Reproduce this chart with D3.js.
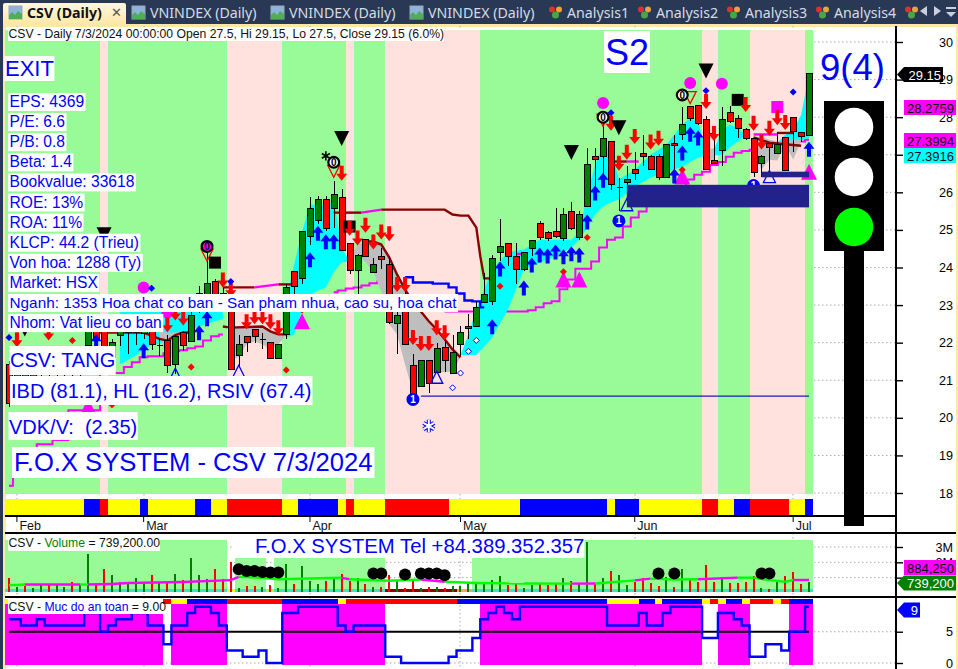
<!DOCTYPE html>
<html>
<head>
<meta charset="utf-8">
<script src="https://cdn.jsdelivr.net/npm/d3@7/dist/d3.min.js"></script>
<style>
  html, body { margin: 0; padding: 0; background: #fff; overflow: hidden; }
  svg { display: block; font-family: "Liberation Sans", Arial, sans-serif; }
</style>
</head>
<body>
<svg id="chart" width="958" height="669"></svg>
<script>
// Bars run oldest first, 102 sessions. Everywhere else a bar is named by how many bars back from the last one it is.
const openP = [21.41,20.8,21.5,21.1,21.3,21.6,21.2,21.3,21.7,21.3,21.93,22.4,22.3,21.6,22.18,22.28,22.28,22.25,22.31,21.93,22.07,21.42,22.27,22.03,22.95,22.95,23.62,23.3,22.89,21.65,22.16,22.35,22.09,22.0,21.58,22.22,23.89,23.7,24.83,25.26,25.82,25.56,25.85,24.65,23.93,24.74,23.88,24.29,24.08,22.51,23.2,21.38,20.83,21.53,21.2,21.87,21.18,21.94,22.37,22.44,23.08,23.1,24.41,24.65,24.3,23.95,24.5,25.16,24.92,24.97,24.76,25.5,24.81,25.61,26.96,26.96,27.36,26.12,26.27,26.62,27.04,26.96,26.96,26.4,27.31,27.55,28.28,28.32,27.95,26.86,27.12,28.13,27.97,27.68,27.44,26.78,27.31,27.04,27.47,28,27.6,27.5]
const highP = [21.5,21.7,21.8,21.8,21.8,21.8,21.8,21.8,21.85,21.85,22.5,22.6,22.5,22.1,22.3,22.4,22.4,22.45,22.4,22.09,22.2,22.2,22.3,23,23.5,24.7,23.7,23.45,22.95,22.2,22.16,22.35,22.25,22.0,21.96,23.55,23.89,24.97,25.88,25.91,25.91,26.3,26.09,24.65,24.37,24.74,24.25,24.52,24.3,23.3,23.4,21.71,21.53,21.53,22,22.18,22.2,22.44,22.75,23.1,23.86,24.32,25.29,24.65,24.64,24.4,24.73,25.24,24.98,25.58,25.58,25.75,25.5,27.18,27.18,27.84,27.36,26.38,26.7,27.06,27.53,27,27.03,27.28,27.53,28.28,28.28,28.32,28.02,27.57,28.28,28.3,28.06,27.7,27.44,27,27.31,27.6,27.47,28,27.6,29.15]
const lowP = [20.3,20.6,20.9,21,21.1,21.1,21,21,21.1,21.1,21.5,22.0,21.6,21.5,21.9,21.69,21.95,22.1,21.8,21.65,21.2,21.16,21.78,22.03,22.8,22.8,22.95,22.9,21.29,21.38,21.76,22.0,21.82,21.58,21.58,22.1,23.2,23.55,24.61,25.15,24.98,25.05,24.46,23.82,23.3,24.28,23.85,23.95,22.5,21.69,21.95,20.55,20.83,20.67,21.2,21.22,21.18,21.65,22.09,22.44,23.08,23,24.17,24.03,23.55,23.9,24.3,24.73,24.71,24.78,24.7,25,24.74,25.6,26.1,26.3,26.07,25.5,25.8,26.34,26.69,26.6,26.34,26.38,26.47,27.4,27.9,27.8,26.6,26.78,26.7,27.85,27.44,27.4,26.42,26.42,26.51,27.04,26.58,27.06,27.35,27.5]
const closeP = [20.37,21.3,21.1,21.5,21.6,21.2,21.6,21.7,21.3,21.75,22.33,22.1,21.9,22.0,22.29,22.33,22.33,22.33,21.96,21.93,21.4,22.16,21.93,22.71,23.3,23.57,23.0,23.0,21.29,21.94,22.0,22.16,22.09,21.58,21.96,23.46,23.5,24.97,25.56,25.82,25.05,25.93,24.46,23.93,24.32,24.3,24.08,24.22,22.53,22.73,21.95,20.58,21.53,20.92,21.84,21.53,21.73,22.28,22.44,22.93,23.28,24.24,24.55,24.28,23.95,24.39,24.73,24.81,24.76,24.83,25.4,25.04,25.42,26.75,26.88,27.44,26.2,26.12,26.33,26.51,26.96,26.62,26.4,27.28,27.25,27.81,27.97,27.82,26.6,26.78,27.95,27.89,27.7,27.44,26.53,26.96,27.18,27.28,26.58,27.62,27.49,29.15]
const volumeM = [0.95,0.41,0.45,0.3,0.56,0.52,0.52,0.37,0.69,0.52,2.56,0.58,1.55,1.2,0.69,0.62,0.99,0.6,1.2,0.65,0.73,1.27,0.84,2.3,1.16,0.9,1.55,0.9,2.0,0.3,0.45,0.43,0.41,0.52,0.34,1.87,0.56,1.74,0.77,0.56,0.77,1.05,1.23,0.77,1.0,0.56,0.39,0.41,1.2,0.77,0.34,0.84,0.34,0.39,0.41,0.34,0.45,0.45,0.62,0.62,0.69,0.84,1.1,0.52,0.56,0.3,0.52,0.62,0.52,0.56,0.95,0.77,0.62,3.3,0.56,0.95,1.42,1.16,0.52,0.69,0.95,0.65,0.45,1.03,0.39,1.55,0.84,0.69,1.8,0.73,1.05,0.62,0.62,0.69,1.1,0.3,0.26,0.69,1.1,1.38,0.58,0.74]
const safetyLevel = [7,7,6,6,7,6,6,6,6,6,8,8,5,6,7,7,8,8,6,6,3,6,6,8,9,9,8,6,2,2,1,1,2,0,0,8,8,9,9,9,9,9,6,5,6,6,6,6,1,1,0,0,0,0,0,0,1,2,2,4,7,8,9,8,7,9,9,9,9,9,9,9,9,9,9,9,6,6,6,6,8,6,6,8,9,9,9,9,4,4,8,8,7,6,1,1,3,3,2,5,5,9]

const monthNames = ['Feb', 'Mar', 'Apr', 'May', 'Jun', 'Jul']
const monthBars = [100, 84, 63, 44, 22, 2]
const priceTicks = [18,19,20,21,22,23,24,25,26,27,28,29,30]
const volumeTicks = [1,2,3]
const safetyTicks = [0,5]

// [from bar, to bar, state]
const trendSpans = [[101.5,89.5,'g'],[89.5,88.5,'p'],[88.5,73.5,'g'],[73.5,66.5,'p'],[66.5,58.5,'g'],[58.5,57.5,'p'],[57.5,53.5,'g'],[53.5,41.5,'p'],[41.5,13.5,'g'],[13.5,11.5,'p'],[11.5,7.5,'g'],[7.5,0.5,'p'],[0.5,-0.5,'g']]
const phaseSpans = [[101.5,91.5,'y'],[91.5,89.5,'b'],[89.5,88.5,'r'],[88.5,84.5,'y'],[84.5,83.5,'b'],[83.5,77.5,'y'],[77.5,75.5,'b'],[75.5,73.5,'y'],[73.5,66.5,'r'],[66.5,64.5,'y'],[64.5,59.5,'b'],[59.5,58.5,'y'],[58.5,57.5,'r'],[57.5,53.5,'y'],[53.5,45.5,'r'],[45.5,36.5,'y'],[36.5,25.5,'b'],[25.5,24.5,'y'],[24.5,21.5,'b'],[21.5,13.5,'y'],[13.5,11.5,'r'],[11.5,9.5,'y'],[9.5,7.5,'b'],[7.5,2.5,'r'],[2.5,0.5,'y'],[0.5,-0.5,'b']]
const volumeZones = [[101.5,73.5],[72.5,68.5],[67.5,53.5],[42.5,-0.5]]
const volumeStrip = [[101.5,73.5,'t'],[73.5,72.5,'y'],[72.5,68.5,'t'],[68.5,67.5,'l'],[67.5,53.5,'t'],[53.5,44.5,'d'],[44.5,42.5,'o'],[42.5,-0.5,'t']]
const safetyZones = [[101.5,81.5],[80.5,73.5],[66.5,53.5],[41.5,13.5],[11.5,7.5],[2.5,-0.5]]
const safetyStrip = [[101.5,101,'y'],[81.5,80.5,'r'],[80.5,78.5,'y'],[78.5,73.5,'b'],[73.5,66.5,'r'],[66.5,59.5,'b'],[59.5,58.5,'y'],[58.5,44.5,'r'],[44.5,25.5,'b'],[25.5,21.5,'y'],[21.5,19.5,'b'],[19.5,18.5,'y'],[18.5,13.5,'b'],[13.5,12.5,'y'],[12.5,11.5,'r'],[11.5,10.5,'y'],[10.5,8.5,'b'],[8.5,7.5,'y'],[7.5,4.5,'r'],[4.5,3.5,'y'],[3.5,2.5,'r'],[2.5,-0.5,'b']]

// Bands: [bar, upper price, lower price]
const cyanA = [[87,23.15,21.42],[85,23.2,21.66],[84,23.2,21.82],[83,23.2,21.93],[81,23.26,22.01],[79,23.26,22.27],[77,23.26,22.43],[75,23.26,22.57],[74,23.15,22.62]]
const cyanB = [[66,23.15,22.14],[65,24.08,22.22],[64,24.95,22.88],[63,25.67,23.26],[62,25.67,23.39],[61,25.67,23.47],[60,25.81,23.88],[59,24.53,24.13],[58,24.16,24.16]]
const cyanC = [[44,21.67,21.67],[43,22.22,21.67],[42,22.88,21.67],[41,23.42,21.9],[40,23.95,22.14],[38,24.42,22.88],[36,24.48,23.95],[34,24.74,24.13],[32,24.74,24.29],[30,24.74,24.53],[29,24.95,24.74],[28,25.94,25.06],[27,26.73,25.41],[26,27.27,25.62],[25,27.13,25.73],[24,26.34,25.81],[22,26.6,26.15],[20,27.0,26.39],[18,27.27,26.55],[16,27.8,26.68],[15,27.98,26.81],[14,27.88,26.92],[13,27.13,26.98],[12,27.13,26.98],[11,27.66,27.0],[10,27.8,27.19],[9,27.72,27.35],[8,27.53,27.53]]
const cyanD = [[4,27.32,27.29],[3,27.53,26.87],[2,27.66,27.27],[1,28.06,27.37],[0,29.12,27.45]]
const greyA = [[82,22.3,22.22],[81,22.27,21.5],[80,22.27,21.82],[79,22.3,22.22]]
const greyB = [[73,22.41,21.56],[72,22.43,21.61],[71,22.43,21.96],[70,22.46,22.04],[69,22.43,21.96],[68,22.3,21.82],[67,22.22,21.96],[66,22.22,22.19]]
const greyC = [[58,24.21,24.16],[57,24.61,24.27],[56,24.69,24.16],[55,24.69,23.89],[54,24.61,23.36],[53,24.27,22.49],[52,23.81,22.22],[51,23.42,21.42],[50,23.07,20.68],[49,22.83,20.95],[48,22.57,21.08],[47,22.35,21.21],[46,22.09,21.21],[45,21.82,21.24],[44,21.61,21.61]]
const greyD = [[13,27.13,26.9],[12,27.18,26.85]]
const greyE = [[7,27.48,27.13],[6,27.48,26.6],[5,27.4,26.87],[4,27.35,26.85],[3,27.32,27.29],[2,27.4,26.87],[1,27.4,27.37]]

// Lines: [bar, price]
const pinkStepA = [[101,18.19],[100,18.43],[99,18.43],[96,19.3],[95,19.41],[92,20.2],[87,21.19],[86,21.35],[85,21.48],[84,21.61],[83,21.64],[82,21.64],[81,21.72],[80,21.77],[79,21.8],[78,21.85],[77,21.9],[76,22.06],[75,22.17],[74,22.22]]
const pinkStepB = [[60,23.34],[59,23.39],[58,23.44],[57,23.47],[56,23.52],[55,23.58],[54,23.63]]
const pinkStepC = [[46,22.83],[45,22.83],[38,22.83],[37,22.83],[36,22.83],[35,22.86],[34,22.94],[33,23.05],[32,23.1],[31,23.42],[30,23.68],[29,23.97],[28,23.97],[27,24.16],[26,24.53],[25,24.74],[24,24.8],[23,25.09],[22,25.33],[21,25.49],[20,25.67],[19,25.8],[18,25.94],[17,26.07],[16,26.15],[15,26.34],[14,26.47],[13,26.55],[12,26.73],[11,26.81],[10,26.95],[9,27.05],[8,27.1],[7,27.13],[6,27.19],[5,27.24],[4,27.24],[3,27.27],[2,27.29],[1,27.35],[0,27.4]]
const blueLine = [[51,23.74],[49,23.6],[46,23.57],[45,23.47],[44,23.31],[43,23.12],[42,23.1],[41,22.94]]
const maroonA = [[60,25.46],[56.5,25.46]]
const pinkA = [[56.5,25.46],[54,25.54]]
const maroonB = [[54,25.54],[46,25.54],[45,25.41],[44,25.38],[43,25.38],[42,25.06],[41.5,24.3],[41,23.71],[40,23.71]]
const maroonC = [[74,23.47],[70,23.47]]
const pinkB = [[70,23.47],[67,23.55]]
const maroonD = [[67,23.55],[65,23.55]]
const maroonE = [[90,22.27],[84,22.27],[82,22.1],[81,22.05],[80,22.2],[79,22.27],[78,22.27]]
const maroonF = [[74,22.43],[73,22.4],[69,22.43],[68,22.3],[67,22.22],[66,22.22]]
const maroonG = [[56,24.69],[55,24.69],[54,24.61],[53,24.27],[52,23.81],[51,23.42],[50,23.07],[49,22.83],[48,22.57],[47,22.35],[46,22.09],[45,21.82],[44,21.61]]
const maroonH = [[25,26.82],[23,26.82]]
const pinkC = [[23,26.82],[21.5,26.82]]
const maroonI = [[13,27.55],[11.8,27.55]]
const pinkD = [[7,27.54],[4,27.54]]
const maroonJ = [[4,27.58],[2,27.58]]
const maroonK = [[7,27.46],[5,27.32],[1,27.24]]
const pinkE = [[37,24.36],[36,24.36]]
const supportLine = [[49,20.58],[0,20.58]]
const supportZones = [[23,0,26.2,25.6],[6,0,26.55,26.4]]

// Volume moving average: [bar, volume in M, rising]
const volumeMa = [[101,0.52,1],[100,0.52,1],[99,0.55,0],[92,0.55,1],[91,0.55,0],[88,0.59,0],[86,0.65,0],[79,0.72,0],[73,0.84,0],[72,1.05,1],[69,0.99,1],[67,0.9,1],[59,0.99,0],[58,0.9,1],[53,0.8,1],[49,0.88,0],[46,0.73,1],[42,0.65,1],[36,0.62,1],[30,0.61,0],[27,0.62,1],[25,0.7,1],[22,0.82,0],[20,0.94,1],[17,0.88,1],[14,0.9,0],[9,1.0,1],[7,1.0,1],[5,0.84,1],[3,0.73,1],[2,0.85,0],[0,0.85,0]]
const volumeDots = [[72,1.55],[71,1.44],[70,1.44],[69,1.37],[68,1.33],[67,1.33],[55,1.27],[54,1.27],[51,1.2],[49,1.27],[48,1.27],[47,1.27],[46,1.16],[19,1.27],[17,1.27],[6,1.27],[5,1.27]]

// Signal markers: [bar, price]
const arrowsDown = [[24,26.79],[23,27.08],[22,27.5],[20,27.35],[19,27.45],[25,27.85],[13,28.43],[12,27.58],[8,28.35],[7,27.85],[6,27.35],[5,27.72],[4,28.0],[3,27.87],[59,26.52],[58,25.06],[57,24.8],[56,25.14],[55,24.69],[54,24.96],[53,24.91],[52,23.56],[51,23.56],[50,22.15],[49,21.99],[48,21.99],[47,22.41],[46,22.28],[71,22.57],[70,22.7],[69,22.7],[68,22.57],[67,22.41],[74,23.68],[73,23.42],[81,22.49],[80,22.8],[79,22.67],[100,22.09],[96,22.27]]
const arrowsUp = [[39,23.95],[36,23.44],[35,24.05],[34,24.32],[33,24.29],[32,24.4],[31,24.27],[30,24.35],[29,24.32],[28,25.2],[27,25.97],[26,26.31],[17,26.42],[16,27.03],[15,27.53],[14,27.43],[0,27.13],[40,22.41],[63,24.19],[62,24.9],[61,24.67],[60,24.67],[76,22.62],[77,22.25],[84,21.77],[90,22.01]]
const pinkTriangles = [[16,26.42],[0,26.55],[64,22.57],[91,20.31],[31,23.68],[29,23.68]]
const redDiamonds = [[16,26.6],[28,24.8],[39,23.5],[78,21.35],[66,21.27],[64,22.87],[88,20.35],[93,22.06],[31,23.89]]
const blueDiamonds = [[25,28.12],[13,28.7],[2,28.67],[73,23.63],[101,22.14],[83,23.45]]
const hollowDiamonds = [[42,22.06],[43,21.77],[44,21.19],[45,20.8]]
const oneBadges = [[50,20.49],[24,25.24],[7,26.18]]
const zeroBadges = [[60,26.8],[26,28.0],[16,28.59]]
const pinkZeroBadges = [[76,24.56]]
const redHollowTriangles = [[60,26.56],[26,27.92],[15,28.52],[76,24.33]]
const blackTriangles = [[59,27.43],[30,27.06],[24,27.72],[13,29.23],[89,24.87]]
const smallBlackTriangles = [[99,22.27]]
const blackSquares = [[75,24.13],[58,25.09],[9,28.46]]
const pinkSquares = [[4,28.27]]
const pinkCircles = [[26,28.38],[15,28.91],[11,28.89],[84,23.47],[81,22.8]]
const hollowUpTriangles = [[47,21.08],[72,21.24],[23,25.67],[5,26.42],[80,21.16]]
const asterisks = [[61,26.97]]
const snowflakes = [[48,19.78]]

const infoRows = ['EPS: 4369','P/E: 6.6','P/B: 0.8','Beta: 1.4','Bookvalue: 33618','ROE: 13%','ROA: 11%','KLCP: 44.2 (Trieu)','Von hoa: 1288 (Ty)','Market: HSX','Nganh: 1353 Hoa chat co ban - San pham nhua, cao su, hoa chat','Nhom: Vat lieu co ban']
const tabNames = ['VNINDEX (Daily)','VNINDEX (Daily)','VNINDEX (Daily)']
const analysisNames = ['Analysis1','Analysis2','Analysis3','Analysis4']

const stateColor = { g: '#98FB98', p: '#FFE1DD', y: '#FFFF00', b: '#0000FF', r: '#FF0000', t: '#40E0D0', l: '#ADFF2F', d: '#8B0000', o: '#FFA54F' }
const BLUE = '#0000FF', PINK = '#FF00FF', MAROON = '#8B0000', NAVY = '#22228A'

const svg = d3.select('#chart')
const x = d3.scaleLinear().domain([101, 0]).range([9, 809])
const yPrice = d3.scaleLinear().domain([18, 30]).range([493, 42])
const yVol = d3.scaleLinear().domain([0, 3]).range([593, 547])
const ySafe = d3.scaleLinear().domain([0, 9]).range([663, 606.7])

const bars = openP.map((o, i) => ({ back: 101 - i, o, h: highP[i], l: lowP[i], c: closeP[i], v: volumeM[i], s: safetyLevel[i] }))
const barSide = 6

/* Window frame and tab strip */
function drawFrame() {
  svg.append('rect').attr('width', 958).attr('height', 669).attr('fill', '#FFE8A6')
  svg.append('rect').attr('x', 6).attr('y', 27).attr('width', 950).attr('height', 642).attr('fill', 'white')
  svg.append('rect').attr('width', 958).attr('height', 24).attr('fill', '#293955')
  svg.append('rect').attr('width', 3).attr('height', 669).attr('fill', '#293955')

  let grad = svg.append('defs').append('linearGradient').attr('id', 'tab').attr('x2', 0).attr('y2', 1)
  grad.append('stop').attr('offset', 0).attr('stop-color', '#FFF8E2')
  grad.append('stop').attr('offset', 1).attr('stop-color', '#FFE8A6')
  svg.append('path').attr('d', 'M3,24V5Q3,3 5,3H124Q126,3 126,5V24Z').attr('fill', 'url(#tab)')

  let tabs = svg.append('g').attr('font-family', '"Noto Sans", sans-serif').attr('font-size', 14.2)
  tabs.append('text').attr('x', 27).attr('y', 18).attr('font-weight', 'bold').attr('fill', '#111').text('CSV (Daily)')
  tabs.append('text').attr('x', 111).attr('y', 17).attr('fill', '#555').attr('font-size', 13).text('✕')
  drawChartIcon(9)
  tabNames.forEach((name, i) => {
    drawChartIcon(132 + i * 139)
    tabs.append('text').attr('x', 150 + i * 139).attr('y', 18).attr('fill', '#D6DCE6').text(name)
  })
  analysisNames.forEach((name, i) => {
    drawAnalysisIcon(549 + i * 89)
    tabs.append('text').attr('x', 567 + i * 89).attr('y', 18).attr('fill', '#D6DCE6').text(name)
  })
  drawAnalysisIcon(905)
  let nav = svg.append('g').attr('fill', '#C9D0DC')
  nav.append('path').attr('d', 'M927,6V16L920,11Z')
  nav.append('path').attr('d', 'M934,6V16L941,11Z')
  nav.append('path').attr('d', 'M946,12H956L951,17Z')
  nav.append('rect').attr('x', 946).attr('y', 7).attr('width', 10).attr('height', 2)
}

function drawChartIcon(left) {
  let g = svg.append('g').attr('transform', 'translate(' + left + ',6)')
  g.append('rect').attr('width', 13).attr('height', 13).attr('fill', '#8FB4DC').attr('stroke', '#9AA7BA')
  g.append('path').attr('d', 'M0,13V9L3,6L6,9L9,5L13,8V13Z').attr('fill', '#4FAE57')
}

function drawAnalysisIcon(left) {
  let g = svg.append('g').attr('transform', 'translate(' + left + ',6)')
  g.append('circle').attr('cx', 3).attr('cy', 3.5).attr('r', 3).attr('fill', '#D9342B')
  g.append('circle').attr('cx', 10).attr('cy', 3.5).attr('r', 3).attr('fill', '#E8A33A')
  g.append('circle').attr('cx', 6.5).attr('cy', 9).attr('r', 3.5).attr('fill', '#45A845')
}

/* Panels: grid, zones, strips */
function drawGrid(ticks, scale, top, bottom) {
  let g = svg.append('g').attr('stroke', '#AAAAAA').attr('stroke-dasharray', '1.5,2.5')
  ticks.forEach(t => g.append('line').attr('x1', 6).attr('x2', 896).attr('y1', scale(t)).attr('y2', scale(t)))
  monthBars.forEach(b => g.append('line').attr('x1', Math.round(x(b))).attr('x2', Math.round(x(b))).attr('y1', top).attr('y2', bottom))
}

function drawSpans(spans, top, height, colorOf) {
  svg.append('g').selectAll('rect').data(spans).join('rect')
    .attr('x', d => x(d[0]))
    .attr('width', d => x(d[1]) - x(d[0]))
    .attr('y', top).attr('height', height)
    .attr('fill', colorOf)
    .attr('shape-rendering', 'crispEdges')
}

function drawBand(rows, color) {
  let area = d3.area().x(d => x(d[0])).y0(d => yPrice(d[1])).y1(d => yPrice(d[2]))
  svg.append('path').attr('d', area(rows)).attr('fill', color)
}

function drawLine(rows, color, width, curve) {
  let line = d3.line().x(d => x(d[0])).y(d => yPrice(d[1])).curve(curve || d3.curveLinear)
  svg.append('path').attr('d', line(rows)).attr('fill', 'none').attr('stroke', color).attr('stroke-width', width)
}

function drawCandles() {
  let g = svg.append('g').attr('stroke', 'black').attr('shape-rendering', 'crispEdges')
  bars.forEach(b => {
    let cx = Math.round(x(b.back)) + 0.5
    g.append('line').attr('x1', cx).attr('x2', cx).attr('y1', yPrice(b.h)).attr('y2', yPrice(b.l))
    if (b.o === b.c) {
      g.append('line').attr('x1', cx - 3).attr('x2', cx + 3).attr('y1', yPrice(b.o)).attr('y2', yPrice(b.o))
    } else {
      g.append('rect')
        .attr('x', cx - barSide / 2).attr('width', barSide)
        .attr('y', yPrice(Math.max(b.o, b.c))).attr('height', Math.max(2, Math.abs(yPrice(b.o) - yPrice(b.c))))
        .attr('fill', b.c >= b.o ? '#008000' : '#FF0000')
    }
  })
}

/* Markers */
function place(rows, drawOne) {
  rows.forEach(d => drawOne(x(d[0]), yPrice(d[1])))
}
let markers

function arrow(cx, cy, dir, color) {
  let p = [[-2, -7], [2, -7], [2, 1], [5.5, 1], [0, 8], [-5.5, 1], [-2, 1]]
  markers.append('polygon').attr('points', p.map(q => (cx + q[0]) + ',' + (cy + q[1] * dir)).join(' ')).attr('fill', color)
}

function triangle(cx, cy, half, dir, fill, stroke) {
  let pts = [[-half, -half * dir], [half, -half * dir], [0, half * dir]]
  markers.append('polygon').attr('points', pts.map(q => (cx + q[0]) + ',' + (cy + q[1])).join(' '))
    .attr('fill', fill).attr('stroke', stroke || 'none').attr('stroke-width', 1.3)
}

function diamond(cx, cy, r, fill, stroke) {
  markers.append('polygon').attr('points', [[0, -r], [r, 0], [0, r], [-r, 0]].map(q => (cx + q[0]) + ',' + (cy + q[1])).join(' '))
    .attr('fill', fill).attr('stroke', stroke || 'none')
}

function badge(cx, cy, label, fill, ring, color) {
  markers.append('circle').attr('cx', cx).attr('cy', cy).attr('r', 5.4).attr('fill', fill).attr('stroke', ring).attr('stroke-width', 2.2)
  markers.append('text').attr('x', cx).attr('y', cy + 3.6).attr('text-anchor', 'middle').attr('font-size', 10).attr('font-weight', 'bold').attr('fill', color).text(label)
}

function drawMarkers() {
  markers = svg.append('g')
  place(pinkTriangles, (a, b) => triangle(a, b, 8, -1, PINK))
  place(redHollowTriangles, (a, b) => triangle(a, b, 6, 1, 'none', '#FF0000'))
  place(hollowUpTriangles, (a, b) => triangle(a, b, 6, -1, 'none', BLUE))
  place(blackSquares, (a, b) => markers.append('rect').attr('x', a - 6).attr('y', b - 6).attr('width', 12).attr('height', 12).attr('fill', 'black'))
  place(pinkSquares, (a, b) => markers.append('rect').attr('x', a - 6).attr('y', b - 6).attr('width', 12).attr('height', 12).attr('fill', PINK))
  place(pinkCircles, (a, b) => markers.append('circle').attr('cx', a).attr('cy', b).attr('r', 6).attr('fill', PINK))
  place(arrowsDown, (a, b) => arrow(a, b, 1, '#FF0000'))
  place(arrowsUp, (a, b) => arrow(a, b, -1, BLUE))
  place(redDiamonds, (a, b) => diamond(a, b, 3.5, '#FF0000'))
  place(blueDiamonds, (a, b) => diamond(a, b, 3.5, BLUE))
  place(hollowDiamonds, (a, b) => diamond(a, b, 3, 'white', BLUE))
  place(oneBadges, (a, b) => badge(a, b, '1', BLUE, BLUE, 'white'))
  place(zeroBadges, (a, b) => badge(a, b, '0', 'white', 'black', 'black'))
  place(pinkZeroBadges, (a, b) => badge(a, b, '0', PINK, 'black', 'black'))
  place(blackTriangles, (a, b) => triangle(a, b, 7.5, 1, 'black'))
  place(smallBlackTriangles, (a, b) => triangle(a, b, 4, 1, 'black'))
  place(asterisks, (a, b) => markers.append('path').attr('transform', 'translate(' + a + ',' + b + ')')
    .attr('d', d3.symbol(d3.symbolAsterisk, 60)()).attr('stroke', 'black').attr('stroke-width', 1.6).attr('fill', 'none'))
  place(snowflakes, (a, b) => {
    let star = d3.symbol(d3.symbolAsterisk, 110)()
    markers.append('path').attr('transform', 'translate(' + a + ',' + b + ')').attr('d', star).attr('stroke', BLUE).attr('stroke-width', 4).attr('fill', 'none')
    markers.append('path').attr('transform', 'translate(' + a + ',' + b + ')').attr('d', star).attr('stroke', 'white').attr('stroke-width', 2).attr('fill', 'none')
  })
}

/* Boxed labels */
function boxedText(left, baseline, str, size, boxTop, boxHeight, pad) {
  let g = svg.append('g')
  let t = g.append('text').attr('x', left).attr('y', baseline).attr('font-size', size).attr('fill', BLUE).style('white-space', 'pre').text(str)
  let w = t.node().getComputedTextLength()
  g.insert('rect', 'text').attr('x', left - pad).attr('y', boxTop).attr('width', w + pad * 2).attr('height', boxHeight).attr('fill', 'white')
  return t
}

function drawLabels() {
  infoRows.forEach((row, i) => boxedText(9.5, 107 + i * 20.1, row, i === 10 ? 15.35 : 15.6, 93 + i * 20.1, 18, 1.5))
  boxedText(5, 76, 'EXIT', 22, 56, 25, 0.5)
  boxedText(10, 367, 'CSV: TANG', 20, 346, 29, 0.5)
  boxedText(11, 398, 'IBD (81.1), HL (16.2), RSIV (67.4)', 20, 376, 29, 1)
  boxedText(9, 434, 'VDK/V:  (2.35)', 20, 412, 28, 0.5)
  boxedText(14, 471, 'F.O.X SYSTEM - CSV 7/3/2024', 25.6, 447, 31, 2)
  boxedText(605, 65, 'S2', 36, 31, 42, 1)
  svg.append('rect').attr('x', 234).attr('y', 537).attr('width', 21).attr('height', 21).attr('fill', 'white')
  boxedText(255, 553, 'F.O.X SYSTEM Tel +84.389.352.357', 20.3, 537, 21, 0)

  svg.append('text').attr('x', 820).attr('y', 80).attr('font-size', 36.5).attr('fill', BLUE).text('9(4)')

  let title = svg.append('g')
  title.append('rect').attr('x', 8).attr('y', 27).attr('width', 436).attr('height', 14).attr('fill', 'white')
  title.append('text').attr('x', 8.5).attr('y', 38).attr('font-size', 12.2).attr('fill', '#111')
    .text('CSV - Daily 7/3/2024 00:00:00 Open 27.5, Hi 29.15, Lo 27.5, Close 29.15 (6.0%)')

  let volTitle = svg.append('g')
  volTitle.append('rect').attr('x', 8).attr('y', 537).attr('width', 152).attr('height', 14).attr('fill', 'white')
  let vt = volTitle.append('text').attr('x', 8.5).attr('y', 547).attr('font-size', 12.2).attr('fill', '#111')
  vt.append('tspan').text('CSV - ')
  vt.append('tspan').attr('fill', '#008000').text('Volume')
  vt.append('tspan').text(' = 739,200.00')

  let safeTitle = svg.append('g')
  safeTitle.append('rect').attr('x', 8).attr('y', 599).attr('width', 155).attr('height', 15).attr('fill', 'white')
  let st = safeTitle.append('text').attr('x', 8.5).attr('y', 611).attr('font-size', 12.2).attr('fill', '#111')
  st.append('tspan').text('CSV - ')
  st.append('tspan').attr('fill', BLUE).text('Muc do an toan')
  st.append('tspan').text(' = 9.00')
}

/* Traffic light */
function drawLight() {
  let g = svg.append('g')
  g.append('rect').attr('x', 844).attr('y', 240).attr('width', 20).attr('height', 286).attr('fill', 'black')
  g.append('rect').attr('x', 824).attr('y', 101).attr('width', 60).attr('height', 150).attr('fill', 'black')
  ;[['white', 127], ['white', 177], ['#00FF00', 227]].forEach(c => {
    g.append('circle').attr('cx', 854).attr('cy', c[1]).attr('r', 19.3).attr('fill', c[0])
  })
}

/* Right-hand axes and value tags */
function styleAxis(sel) {
  sel.select('.domain').remove()
  sel.selectAll('line').attr('stroke', 'black').attr('stroke-width', 1.4)
  sel.selectAll('text').attr('font-size', 12.6).attr('fill', 'black').attr('text-anchor', 'end').attr('x', 57).attr('font-family', '"Liberation Sans", Arial, sans-serif')
}

function drawAxes() {
  svg.append('g').attr('transform', 'translate(896,0)').call(d3.axisRight(yPrice).tickValues(priceTicks).tickSize(7).tickFormat(d3.format('d'))).call(styleAxis)
  // the 1M label sits fully behind the 739,200 tag in the reference
  svg.append('g').attr('transform', 'translate(896,0)').call(d3.axisRight(yVol).tickValues(volumeTicks).tickSize(7).tickFormat(d => d === 1 ? '' : d + 'M')).call(styleAxis)
  svg.append('g').attr('transform', 'translate(896,0)').call(d3.axisRight(ySafe).tickValues(safetyTicks).tickSize(7).tickFormat(d3.format('d'))).call(styleAxis)

  let months = svg.append('g').attr('transform', 'translate(0,516)')
    .call(d3.axisBottom(x).tickValues(monthBars).tickSize(6).tickFormat((d, i) => monthNames[i]))
  months.select('.domain').remove()
  months.selectAll('line').attr('stroke', 'black').attr('transform', 'translate(-0.5,0)')
  months.selectAll('text').attr('font-size', 12.5).attr('fill', '#111').attr('text-anchor', 'start').attr('x', 2).attr('y', 5).attr('dy', '0.71em')
    .attr('font-family', '"Liberation Sans", Arial, sans-serif')

  let frame = svg.append('g').attr('stroke', 'black').attr('stroke-width', 1.5).attr('shape-rendering', 'crispEdges')
  frame.append('line').attr('x1', 896).attr('x2', 896).attr('y1', 26).attr('y2', 669)
  frame.append('line').attr('x1', 5).attr('x2', 896).attr('y1', 516).attr('y2', 516)
  frame.append('line').attr('x1', 5).attr('x2', 956).attr('y1', 533).attr('y2', 533)
  frame.append('line').attr('x1', 5).attr('x2', 956).attr('y1', 597).attr('y2', 597)
}

function valueTag(left, width, centre, str, fill, color, pointer) {
  let top = centre - 7.5
  let g = svg.append('g')
  if (pointer) {
    g.append('path').attr('d', 'M' + (left - 7) + ',' + centre + 'L' + left + ',' + top + 'H' + (left + width) + 'V' + (top + 15) + 'H' + left + 'Z').attr('fill', fill)
  } else {
    g.append('rect').attr('x', left).attr('y', top).attr('width', width).attr('height', 15).attr('fill', fill)
  }
  g.append('text').attr('x', left + width - 2).attr('y', centre + 5).attr('text-anchor', 'end').attr('font-size', 13).attr('fill', color).text(str)
}

function drawVolume() {
  drawGrid(volumeTicks, yVol, 533, 597)
  drawSpans(volumeZones, 540, 52, () => stateColor.g)
  drawSpans(volumeStrip, 589, 3, d => stateColor[d[2]])
  svg.append('g').selectAll('rect').data(bars).join('rect')
    .attr('x', d => Math.round(x(d.back)) - 1)
    .attr('width', 2.4)
    .attr('y', d => yVol(d.v))
    .attr('height', d => yVol(0) - 1 - yVol(d.v))
    .attr('fill', d => d.c >= d.o ? '#008000' : '#FF0000')
    .attr('shape-rendering', 'crispEdges')
  d3.pairs(volumeMa).forEach(p => {
    svg.append('line').attr('x1', x(p[0][0])).attr('x2', x(p[1][0])).attr('y1', yVol(p[0][1])).attr('y2', yVol(p[1][1]))
      .attr('stroke', p[0][2] ? '#00FF00' : PINK).attr('stroke-width', 2.4)
  })
  svg.append('g').selectAll('circle').data(volumeDots).join('circle')
    .attr('cx', d => x(d[0])).attr('cy', d => yVol(d[1])).attr('r', 6).attr('fill', 'black')
}

function drawSafety() {
  drawGrid(safetyTicks, ySafe, 597, 669)
  drawSpans(safetyZones, 604, 61, () => PINK)
  drawSpans(safetyStrip, 599, 5, d => stateColor[d[2]])
  svg.append('path').attr('d', d3.line().x(d => x(d.back)).y(d => ySafe(5))(bars)).attr('stroke', 'black').attr('stroke-width', 2).attr('fill', 'none')
  svg.append('path').attr('d', d3.line().x(d => x(d.back)).y(d => ySafe(d.s)).curve(d3.curveStep)(bars))
    .attr('stroke', BLUE).attr('stroke-width', 2.4).attr('fill', 'none')
}

function drawPricePane() {
  drawGrid(priceTicks, yPrice, 26, 516)
  drawSpans(trendSpans, 30, 464, d => stateColor[d[2]])
  drawSpans(phaseSpans, 499, 17, d => stateColor[d[2]])

  ;[pinkStepA, pinkStepB, pinkStepC].forEach(rows => drawLine(rows, PINK, 2, d3.curveStep))
  ;[cyanA, cyanB, cyanC, cyanD].forEach(rows => drawBand(rows, '#00FFFF'))
  ;[greyA, greyB, greyC, greyD, greyE].forEach(rows => drawBand(rows, '#BEBEBE'))
  drawLine(blueLine, BLUE, 2.4, d3.curveStep)
  ;[maroonA, maroonB, maroonC, maroonD, maroonE, maroonF, maroonG, maroonH, maroonI, maroonJ, maroonK].forEach(rows => drawLine(rows, MAROON, 2.4))
  ;[pinkA, pinkB, pinkC, pinkD, pinkE].forEach(rows => drawLine(rows, PINK, 2.4))
  drawLine(supportLine, '#1C1CB4', 1.2)

  drawCandles()
  drawMarkers()
  svg.append('g').selectAll('rect').data(supportZones).join('rect')
    .attr('x', d => x(d[0]))
    .attr('width', d => x(d[1]) - x(d[0]))
    .attr('y', d => yPrice(d[2]))
    .attr('height', d => yPrice(d[3]) - yPrice(d[2]))
    .attr('fill', NAVY)
}

drawFrame()
drawVolume()
drawSafety()
drawPricePane()
drawLight()
drawLabels()
drawAxes()
valueTag(904, 52, 107.5, '28.2759', PINK, '#111', false)
valueTag(904, 52, 140.5, '27.3994', PINK, '#111', false)
valueTag(904, 52, 155.5, '27.3916', '#00FFFF', '#111', false)
valueTag(904, 39, 74.5, '29.15', 'black', 'white', true)
valueTag(904, 52, 567.5, '884,250', PINK, '#111', false)
valueTag(904, 52, 583, '739,200', '#008000', 'white', true)
valueTag(904, 16, 610, '9', BLUE, 'white', true)
</script>
</body>
</html>
